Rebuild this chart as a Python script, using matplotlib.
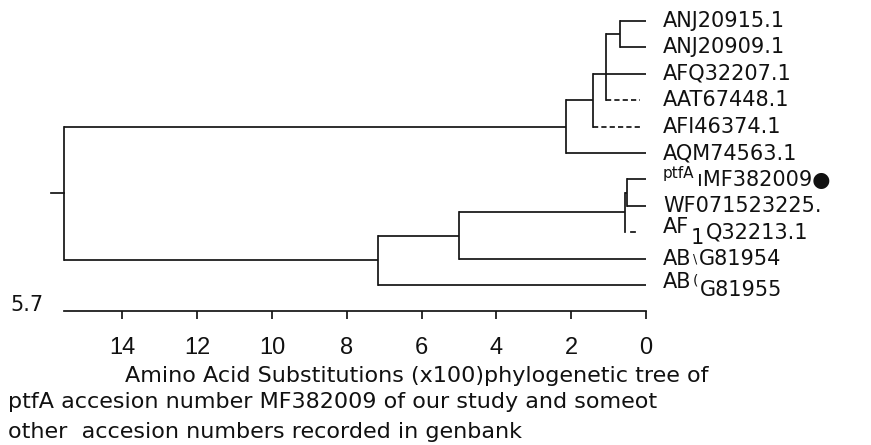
import matplotlib
matplotlib.use("Agg")
import matplotlib.pyplot as plt

# ---------------- data ----------------
leaf_names = ["ANJ20915.1", "ANJ20909.1", "AFQ32207.1", "AAT67448.1", "AFI46374.1",
              "AQM74563.1", "ptfA MF382009", "WF071523225.", "AF1Q32213.1",
              "ABG81954", "ABG81955"]
# branch drawing style per leaf: solid / dashed (negative length) / stub
leaf_style = ["solid", "solid", "solid", "dashed", "dashed", "solid",
              "solid", "solid", "stub", "solid", "solid"]

# internal nodes: name -> (height in amino-acid substitutions x100, children)
node_height = {"D": 0.70, "C": 1.07, "B": 1.42, "A": 2.13,
               "G": 0.51, "G2": 0.56, "F": 5.01, "E": 7.17, "root": 15.56}
node_children = {"D": [0, 1], "C": ["D", 2, 3], "B": ["C", 4], "A": ["B", 5],
                 "G": [6, 7], "G2": ["G", 8], "F": ["G2", 9], "E": ["F", 10],
                 "root": ["A", "E"]}

scale_ticks = [0, 2, 4, 6, 8, 10, 12, 14]
scale_label = "5.7"
caption_lines = ["Amino Acid Substitutions (x100)phylogenetic tree of",
                 "ptfA accesion number MF382009 of our study and someot",
                 "other  accesion numbers recorded in genbank"]

# ---------------- layout ----------------
W, H = 871, 445
PX_PER_UNIT = 37.4
TIP_PX = 646
ROW0, ROW = 21, 26.4
LINE = "#141414"
LW = 1.25

fig = plt.figure(figsize=(W / 100, H / 100), dpi=100)
fig.patch.set_facecolor("white")
ax = fig.add_axes([0, 0, 1, 1])
ax.set_xlim(TIP_PX / PX_PER_UNIT, (TIP_PX - W) / PX_PER_UNIT)
ax.set_ylim((H - ROW0) / ROW, -ROW0 / ROW)


def draw(node):
    """draw subtree, return (y, height)"""
    if isinstance(node, int):
        return node, 0.0
    h = node_height[node]
    ys = []
    for ch in node_children[node]:
        cy, ch_h = draw(ch)
        ys.append(cy)
        if isinstance(ch, int):
            st = leaf_style[ch]
            if st == "solid":
                ax.plot([h, 0], [cy, cy], color=LINE, lw=LW, solid_capstyle="butt")
            elif st == "dashed":
                ax.plot([h, 0.16], [cy, cy], color=LINE, lw=LW,
                        linestyle=(0, (3.0, 1.8)))
            else:
                ax.plot([0.40, 0.29], [cy, cy], color=LINE, lw=LW)
        else:
            ax.plot([h, ch_h], [cy, cy], color=LINE, lw=LW, solid_capstyle="butt")
    ax.plot([h, h], [min(ys), max(ys)], color=LINE, lw=LW, solid_capstyle="projecting")
    n = len(ys)
    y = ys[n // 2] if n % 2 == 1 else (ys[0] + ys[-1]) / 2
    return y, h


root_y, root_h = draw("root")
ax.plot([root_h + 0.35, root_h], [root_y, root_y], color=LINE, lw=LW)

# scale bar = the x axis placed under the tree
for s in ["top", "left", "right"]:
    ax.spines[s].set_visible(False)
ax.spines["bottom"].set_position(("data", (311 - ROW0) / ROW))
ax.spines["bottom"].set_bounds(0, root_h)
ax.spines["bottom"].set_linewidth(LW)
ax.spines["bottom"].set_color(LINE)
ax.set_yticks([])
ax.set_xticks(scale_ticks)
ax.set_xticklabels([str(t) for t in scale_ticks],
                   family=["Liberation Sans Narrow", "Liberation Sans", "DejaVu Sans"],
                   fontsize=17, color="#111")
ax.tick_params(axis="x", direction="out", length=5.8, width=LW, color=LINE, pad=13)
ax.set_facecolor("none")

# leaf labels
FS = 15
label_pieces = {
    6: [("ptfA", 0, 6, 11), ("ıMF382009●", 34, -1, FS)],
    8: [("AF", 0, 5, FS), ("1", 28, -6, FS), ("Q32213.1", 43, 0, FS)],
    9: [("AB", 0, 0, FS), ("\\", 30, 0, 9), ("G81954", 36, 0, FS)],
    10: [("AB", 0, 3, FS), ("(", 30, 5, 10), ("G81955", 37, -5, FS)],
}
for i, name in enumerate(leaf_names):
    pieces = label_pieces.get(i, [(name, 0, 0, FS)])
    for txt, dx, dy, fs in pieces:
        ax.annotate(txt, xy=(0, i), xytext=(17 + dx, dy), textcoords="offset pixels",
                    va="center", ha="left", fontsize=fs, color="#111",
                    family="DejaVu Sans", annotation_clip=False)

# scale value at the left end of the bar
fig.text(10 / W, 1 - 305 / H, scale_label, fontsize=15, va="center", ha="left",
         color="#111")

# caption
CFS = 16
fig.text(125 / W, 1 - 382 / H, caption_lines[0], fontsize=CFS, va="baseline",
         ha="left", color="#111")
fig.text(8 / W, 1 - 408 / H, caption_lines[1], fontsize=CFS, va="baseline",
         ha="left", color="#111")
fig.text(8 / W, 1 - 438 / H, caption_lines[2], fontsize=CFS, va="baseline",
         ha="left", color="#111")

fig.savefig("out.png", dpi=100, facecolor="white")
